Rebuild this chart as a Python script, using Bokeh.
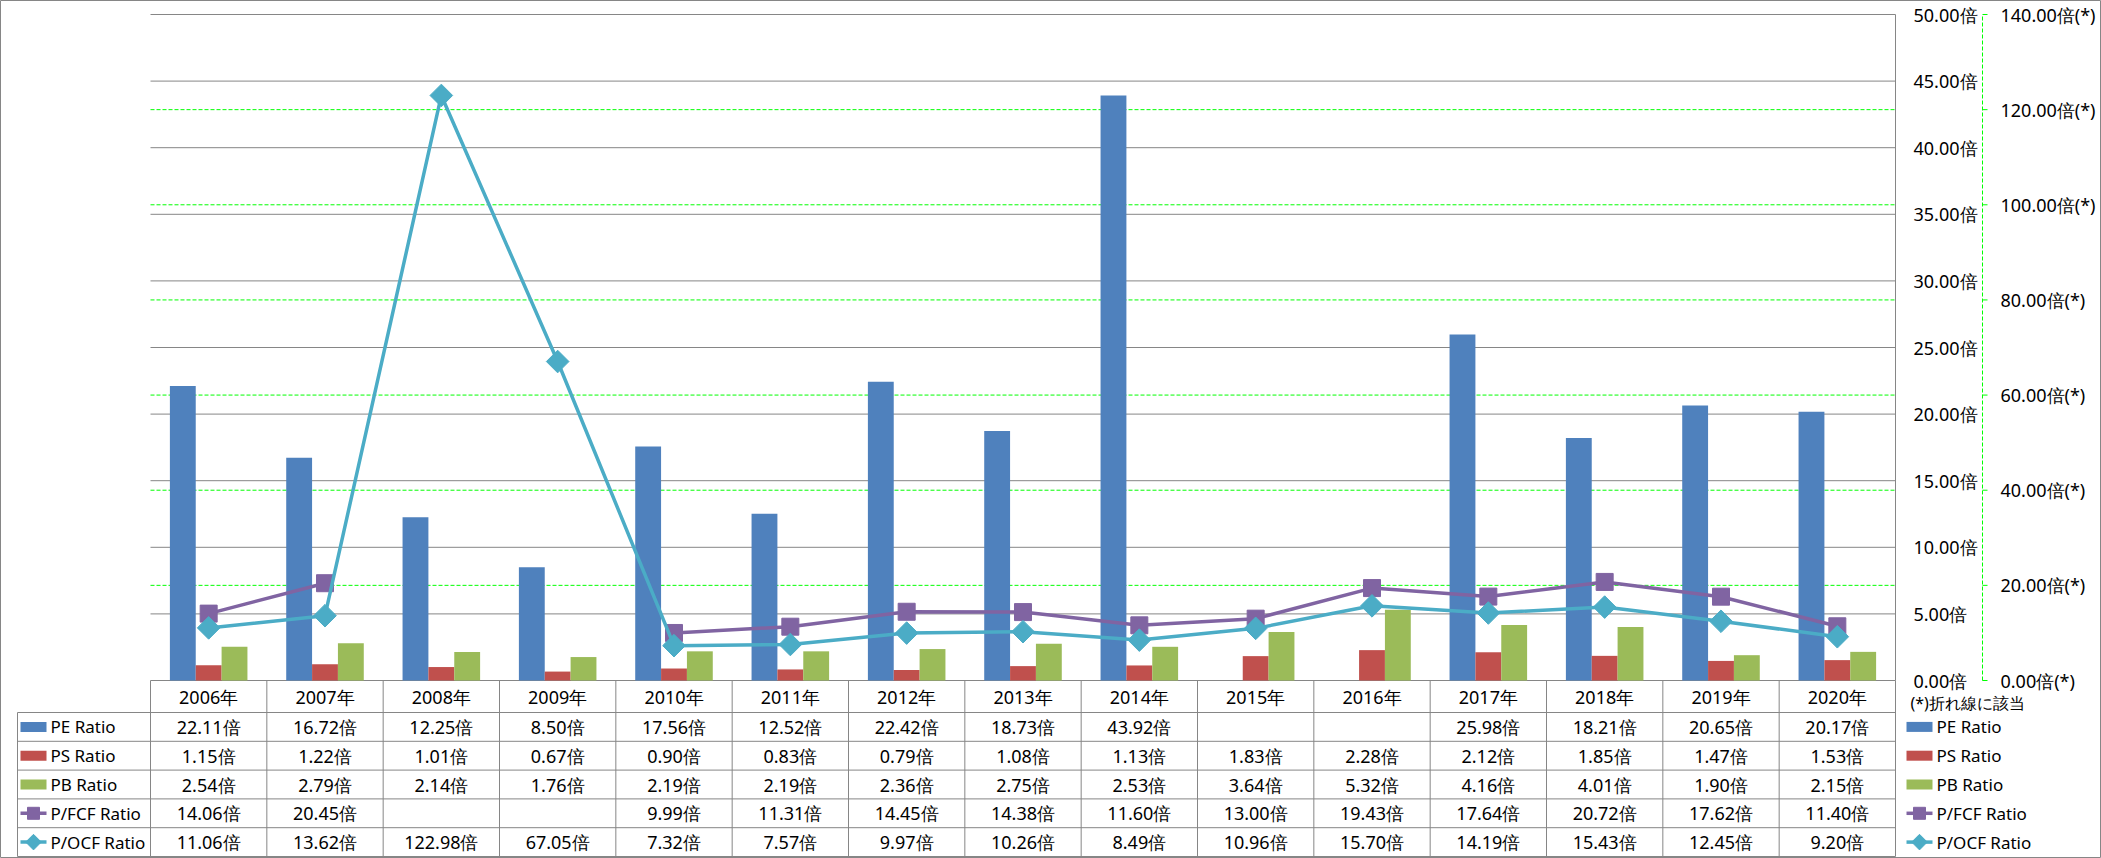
import math
from bokeh.plotting import figure
from bokeh.models import Range1d, ColumnDataSource
from bokeh.embed import file_html
from bokeh.resources import INLINE
from bokeh.core.properties import value

# ---------------- data ----------------
years = ["2006年", "2007年", "2008年", "2009年", "2010年", "2011年", "2012年", "2013年",
         "2014年", "2015年", "2016年", "2017年", "2018年", "2019年", "2020年"]
series_names = ["PE Ratio", "PS Ratio", "PB Ratio", "P/FCF Ratio", "P/OCF Ratio"]
pe_ratio = [22.11, 16.72, 12.25, 8.50, 17.56, 12.52, 22.42, 18.73, 43.92, None, None,
            25.98, 18.21, 20.65, 20.17]
ps_ratio = [1.15, 1.22, 1.01, 0.67, 0.90, 0.83, 0.79, 1.08, 1.13, 1.83, 2.28,
            2.12, 1.85, 1.47, 1.53]
pb_ratio = [2.54, 2.79, 2.14, 1.76, 2.19, 2.19, 2.36, 2.75, 2.53, 3.64, 5.32,
            4.16, 4.01, 1.90, 2.15]
pfcf_ratio = [14.06, 20.45, None, None, 9.99, 11.31, 14.45, 14.38, 11.60, 13.00, 19.43,
              17.64, 20.72, 17.62, 11.40]
pocf_ratio = [11.06, 13.62, 122.98, 67.05, 7.32, 7.57, 9.97, 10.26, 8.49, 10.96, 15.70,
              14.19, 15.43, 12.45, 9.20]
primary_ticks = [0, 5, 10, 15, 20, 25, 30, 35, 40, 45, 50]
secondary_ticks = [0, 20, 40, 60, 80, 100, 120, 140]
primary_fmt = "{:.2f}倍"
secondary_fmt = "{:.2f}倍(*)"
note_text = "(*)折れ線に該当"

# ---------------- style / layout constants ----------------
FONT = "Noto Sans"
BLUE, RED, GREEN, PURPLE, CYAN = "#4F81BD", "#C0504D", "#9BBB59", "#8064A2", "#4BACC6"
GRID = "#868686"
LIME = "#00FF00"
FS_NUM = "18px"
FS_TXT = "17px"

W, H = 2101, 858
LEFT, PLOT_RIGHT, TOP, AXIS_Y = 150, 1895, 14, 680
N = len(years)
U = (PLOT_RIGHT - LEFT) / N                 # px per category
PMAX, SMAX = primary_ticks[-1], secondary_ticks[-1]
K = (AXIS_Y - TOP) / PMAX                   # px per primary unit
K2 = (AXIS_Y - TOP) / SMAX                  # px per secondary unit
HEADER_BOTTOM = 712
ROW = 28.8                                  # px per table row
BW = 1 / 4.5                                # bar width (gap width 150%)


def px(xpix):
    """horizontal layout position (pixels) -> category units"""
    return (xpix - LEFT) / U


xs = [i + 0.5 for i in range(N)]

p = figure(width=W, height=H, output_backend="svg", toolbar_location=None,
           x_range=Range1d(-LEFT / U, (W - LEFT) / U),
           y_range=Range1d(-(H - AXIS_Y) / K, PMAX + TOP / K),
           x_axis_location=None, y_axis_location=None, min_border=0,
           outline_line_color=GRID, outline_line_width=1,
           background_fill_color="white", border_fill_color="white")
p.grid.visible = False
p.extra_y_ranges = {
    "sec": Range1d(-(H - AXIS_Y) / K2, SMAX + TOP / K2),
    "tbl": Range1d((H - HEADER_BOTTOM) / ROW, -HEADER_BOTTOM / ROW),
}

# ---------------- gridlines & axes ----------------
p.segment(x0=[0] * len(primary_ticks), x1=[N] * len(primary_ticks),
          y0=primary_ticks, y1=primary_ticks, line_color=GRID, line_width=1)
sec_grid = secondary_ticks[1:-1]
p.segment(x0=[0] * len(sec_grid), x1=[N] * len(sec_grid), y0=sec_grid, y1=sec_grid,
          y_range_name="sec", line_color=LIME, line_width=1, line_dash="4 2")

# primary axis (right side of plot)
p.segment(x0=[N], x1=[N], y0=[0], y1=[PMAX], line_color=GRID, line_width=1)
p.text(x=[px(1913)] * len(primary_ticks), y=primary_ticks,
       text=[primary_fmt.format(v) for v in primary_ticks],
       text_font=value(FONT), text_font_size=FS_NUM, text_color="black",
       text_align="left", text_baseline="middle")

# secondary axis
sx = px(1982)
p.segment(x0=[sx], x1=[sx], y0=[0], y1=[SMAX], y_range_name="sec",
          line_color=LIME, line_width=1, line_dash="4 2")
p.segment(x0=[sx] * len(secondary_ticks), x1=[px(1987)] * len(secondary_ticks),
          y0=secondary_ticks, y1=secondary_ticks, y_range_name="sec",
          line_color=LIME, line_width=1)
p.text(x=[px(2000)] * len(secondary_ticks), y=secondary_ticks, y_range_name="sec",
       text=[secondary_fmt.format(v) for v in secondary_ticks],
       text_font=value(FONT), text_font_size=FS_NUM, text_color="black",
       text_align="left", text_baseline="middle")
p.text(x=[px(1910)], y=[(702 - HEADER_BOTTOM) / ROW], y_range_name="tbl",
       text=[note_text], text_font=value(FONT), text_font_size="16px",
       text_color="black", text_align="left", text_baseline="middle")

# ---------------- bars ----------------
for vals, color, off in zip([pe_ratio, ps_ratio, pb_ratio], [BLUE, RED, GREEN], [-BW, 0, BW]):
    src = ColumnDataSource(dict(
        x=[x + off for x, v in zip(xs, vals) if v is not None],
        top=[v for v in vals if v is not None]))
    p.vbar(x="x", top="top", bottom=0, width=BW, source=src,
           fill_color=color, line_color=None)

# ---------------- lines (secondary axis) ----------------
for vals, color, size, ang in [(pfcf_ratio, PURPLE, 17, 0),
                               (pocf_ratio, CYAN, 16, math.pi / 4)]:
    ys = [v if v is not None else float("nan") for v in vals]
    p.line(xs, ys, y_range_name="sec", line_color=color, line_width=3.5, line_join="round")
    mx = [x for x, v in zip(xs, vals) if v is not None]
    my = [v for v in vals if v is not None]
    p.scatter(mx, my, y_range_name="sec", marker="square", size=size, angle=ang,
              fill_color=color, line_color=color)

# ---------------- data table ----------------
nrows = len(series_names)
label_left = px(17)
y_header = (696 - HEADER_BOTTOM) / ROW
y_axis_tbl = (AXIS_Y - HEADER_BOTTOM) / ROW

p.segment(x0=[label_left] * (nrows + 1), x1=[N] * (nrows + 1),
          y0=list(range(nrows + 1)), y1=list(range(nrows + 1)), y_range_name="tbl",
          line_color=GRID, line_width=1)
bx = list(range(N + 1))
p.segment(x0=bx, x1=bx, y0=[y_axis_tbl] * len(bx), y1=[nrows] * len(bx),
          y_range_name="tbl", line_color=GRID, line_width=1)
p.segment(x0=[label_left], x1=[label_left], y0=[0], y1=[nrows], y_range_name="tbl",
          line_color=GRID, line_width=1)

p.text(x=xs, y=[y_header] * N, y_range_name="tbl", text=years,
       text_font=value(FONT), text_font_size=FS_NUM, text_color="black",
       text_align="center", text_baseline="middle")

all_series = [pe_ratio, ps_ratio, pb_ratio, pfcf_ratio, pocf_ratio]
cx, cy, ct = [], [], []
for k, vals in enumerate(all_series):
    for x, v in zip(xs, vals):
        if v is not None:
            cx.append(x)
            cy.append(k + 0.5)
            ct.append(primary_fmt.format(v))
p.text(x="x", y="y", text="text", source=ColumnDataSource(dict(x=cx, y=cy, text=ct)),
       y_range_name="tbl", text_font=value(FONT), text_font_size=FS_NUM,
       text_color="black", text_align="center", text_baseline="middle")

# legend keys: left label column and right legend
colors = [BLUE, RED, GREEN, PURPLE, CYAN]
for key_left in (20, 1906):
    kx0, kx1 = px(key_left), px(key_left + 26)
    kxc = (kx0 + kx1) / 2
    p.rect(x=[kxc] * 3, y=[0.5, 1.5, 2.5], width=kx1 - kx0, height=10 / ROW,
           y_range_name="tbl", fill_color=colors[:3], line_color=None)
    p.segment(x0=[kx0, kx0], x1=[kx1, kx1], y0=[3.5, 4.5], y1=[3.5, 4.5],
              y_range_name="tbl", line_color=[PURPLE, CYAN], line_width=3.5)
    p.scatter([kxc], [3.5], y_range_name="tbl", marker="square", size=12,
              fill_color=PURPLE, line_color=PURPLE)
    p.scatter([kxc], [4.5], y_range_name="tbl", marker="square", size=11,
              angle=math.pi / 4, fill_color=CYAN, line_color=CYAN)
    p.text(x=[px(key_left + 30)] * nrows, y=[k + 0.5 for k in range(nrows)],
           y_range_name="tbl", text=series_names, text_font=value(FONT),
           text_font_size=FS_TXT, text_color="black", text_align="left",
           text_baseline="middle")

open("out.html", "w").write(file_html(p, INLINE))
